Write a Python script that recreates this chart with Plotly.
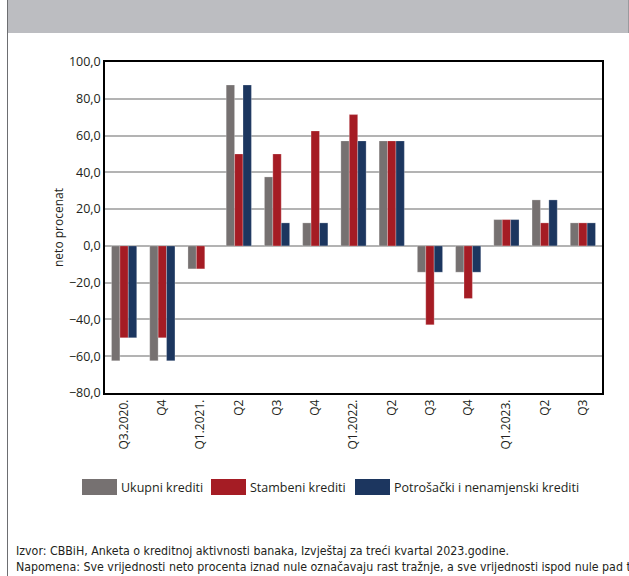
import plotly.graph_objects as go

categories = ["Q3.2020.", "Q4", "Q1.2021.", "Q2", "Q3", "Q4", "Q1.2022.", "Q2", "Q3", "Q4", "Q1.2023.", "Q2", "Q3"]
ukupni = [-62.5, -62.5, -12.5, 87.5, 37.5, 12.5, 57.1, 57.1, -14.3, -14.3, 14.3, 25.0, 12.5]
stambeni = [-50.0, -50.0, -12.5, 50.0, 50.0, 62.5, 71.4, 57.1, -42.9, -28.6, 14.3, 12.5, 12.5]
potrosacki = [-50.0, -62.5, None, 87.5, 12.5, 12.5, 57.1, 57.1, -14.3, -14.3, 14.3, 25.0, 12.5]
series_names = ["Ukupni krediti", "Stambeni krediti", "Potrošački i nenamjenski krediti"]
colors = ["#767171", "#A51C24", "#1C365F"]
y_ticks = [-80, -60, -40, -20, 0, 20, 40, 60, 80, 100]

W, H = 629, 576
L, R, T, B = 105, 27, 62, 183
pw, ph = W - L - R, H - T - B

def px(x):
    return (x - L) / pw

def py(y):
    return (H - B - y) / ph

fig = go.Figure()
for name, vals, c in zip(series_names, [ukupni, stambeni, potrosacki], colors):
    fig.add_trace(go.Bar(x=list(range(len(categories))), y=vals, name=name,
                         marker=dict(color=c, line=dict(color="rgba(255,255,255,0.5)", width=0.5)),
                         showlegend=False))

font_main = "Open Sans, Liberation Sans, sans-serif"
fig.update_layout(
    width=W, height=H,
    margin=dict(l=L, r=R, t=T, b=B, pad=0),
    paper_bgcolor="white", plot_bgcolor="white",
    barmode="group", bargap=0.34, bargroupgap=0,
    separators=", ",
    font=dict(family=font_main, color="#231f20", size=12),
    xaxis=dict(tickmode="array", tickvals=list(range(len(categories))), ticktext=categories,
               tickangle=-90, range=[-0.5, len(categories) - 0.5], showgrid=False,
               showline=True, linecolor="black", linewidth=1.5, mirror=True, ticks="",
               tickfont=dict(size=12), zeroline=False),
    yaxis=dict(range=[-80, 100], tickvals=y_ticks, tickformat=".1f", showgrid=True,
               gridcolor="#b3b3b3", gridwidth=1.5, zeroline=True, zerolinecolor="#b3b3b3",
               zerolinewidth=1.5, showline=True, linecolor="black", linewidth=1.5, mirror=True,
               ticks="", tickfont=dict(size=12.5),
               title=dict(text="neto procenat", font=dict(size=12), standoff=3)),
)

shapes = []
annotations = []
# header band
shapes.append(dict(type="rect", xref="paper", yref="paper", x0=px(8), x1=px(629), y0=py(33), y1=py(0),
                   fillcolor="#bcbdc1", line=dict(width=0), layer="below"))
shapes.append(dict(type="line", xref="paper", yref="paper", x0=px(7.5), x1=px(7.5), y0=py(576), y1=py(0),
                   line=dict(color="#6d6e71", width=1)))
shapes.append(dict(type="line", xref="paper", yref="paper", x0=px(628.5), x1=px(628.5), y0=py(33), y1=py(0),
                   line=dict(color="#9a9a9e", width=1)))

# legend
leg_x = [82, 211, 355]
for xs, name, c in zip(leg_x, series_names, colors):
    shapes.append(dict(type="rect", xref="paper", yref="paper", x0=px(xs), x1=px(xs + 35),
                       y0=py(495), y1=py(479), fillcolor=c, line=dict(width=0)))
    annotations.append(dict(xref="paper", yref="paper", x=px(xs + 37), y=py(487), text=name,
                            showarrow=False, xanchor="left", yanchor="middle",
                            font=dict(size=12.5, family=font_main, color="#231f20")))

foot_font = "Liberation Sans Narrow, DejaVu Sans Condensed, Roboto, sans-serif"
annotations.append(dict(xref="paper", yref="paper", x=px(14), y=py(551),
                        text="Izvor: CBBiH, Anketa o kreditnoj aktivnosti banaka, Izvještaj za treći kvartal 2023.godine.",
                        showarrow=False, xanchor="left", yanchor="middle",
                        font=dict(size=12.3, family=foot_font, color="#231f20")))
annotations.append(dict(xref="paper", yref="paper", x=px(14), y=py(567),
                        text="Napomena: Sve vrijednosti neto procenta iznad nule označavaju rast tražnje, a sve vrijednosti ispod nule pad tražnje.",
                        showarrow=False, xanchor="left", yanchor="middle",
                        font=dict(size=12.3, family=foot_font, color="#231f20")))

fig.update_layout(shapes=shapes, annotations=annotations)
fig.write_html("out.html", config={"displayModeBar": False},
               post_script="document.body.style.margin='0';document.body.style.overflow='hidden';")
